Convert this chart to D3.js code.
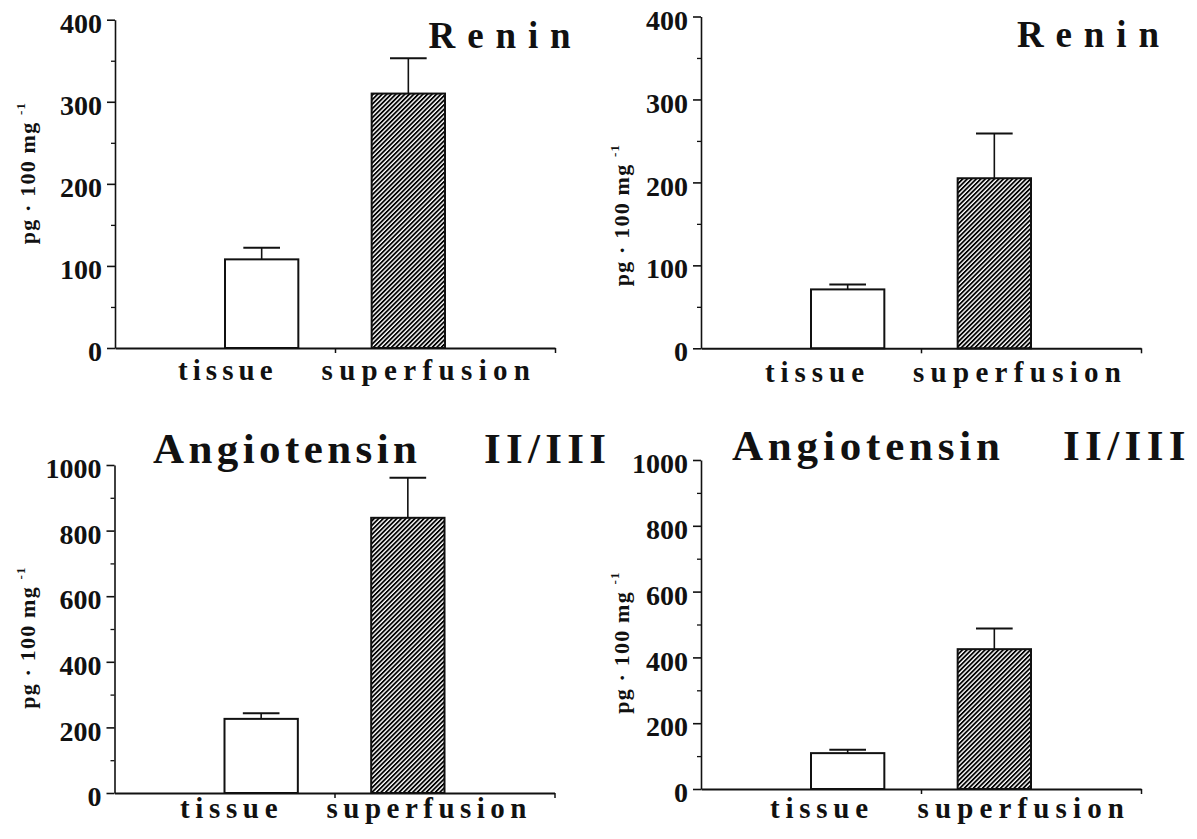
<!DOCTYPE html>
<html>
<head>
<meta charset="utf-8">
<script src="https://cdn.jsdelivr.net/npm/d3@7"></script>
<style>
  body { margin: 0; background: #fff; }
  svg { display: block; }
</style>
</head>
<body>
<svg id="fig" width="1197" height="839"></svg>
<script>
// Groups shown on every panel
const groups = ["tissue", "superfusion"];

// Renin content (pg · 100 mg⁻¹), mean and SEM
const reninMeansA = [108, 310];
const reninSemA   = [14, 43];
const reninMeansB = [71, 205];
const reninSemB   = [6, 54];

// Angiotensin II/III content (pg · 100 mg⁻¹), mean and SEM
const angioMeansA = [226, 839];
const angioSemA   = [17, 122];
const angioMeansB = [109, 425];
const angioSemB   = [10, 63];

// Axis tick labels
const reninTicks = [0, 100, 200, 300, 400];
const angioTicks = [0, 200, 400, 600, 800, 1000];

const FONT = "'Liberation Serif', 'Times New Roman', Times, serif";
const svg = d3.select("#fig");

// Diagonal hatching for the superfusion bars
const defs = svg.append("defs");
const hatch = defs.append("pattern")
  .attr("id", "hatch")
  .attr("patternUnits", "userSpaceOnUse")
  .attr("width", 3.2).attr("height", 3.2)
  .attr("patternTransform", "rotate(45)");
hatch.append("rect").attr("width", 3.2).attr("height", 3.2).attr("fill", "#fff");
hatch.append("rect").attr("width", 1.8).attr("height", 3.2).attr("fill", "#000");

// Panel layout
const panels = [
  { means: reninMeansA, sem: reninSemA, ticks: reninTicks, minorStep: 50, yMax: 400,
    left: 115, bottom: 348, top: 19.7,
    titles: [{ text: "Renin", x: 428.6, y: 48.3, size: 37, len: 142 }],
    yLabel: { x: 35, y: 173 },
    xLabels: [{ x: 178, len: 94.5 }, { x: 321.5, len: 208.5 }], xLabelY: 380 },
  { means: reninMeansB, sem: reninSemB, ticks: reninTicks, minorStep: 50, yMax: 400,
    left: 701, bottom: 348.3, top: 16.5,
    titles: [{ text: "Renin", x: 1017, y: 46.7, size: 37, len: 142 }],
    yLabel: { x: 629, y: 215 },
    xLabels: [{ x: 765, len: 99 }, { x: 913, len: 208 }], xLabelY: 381.7 },
  { means: angioMeansA, sem: angioSemA, ticks: angioTicks, minorStep: 100, yMax: 1000,
    left: 114.5, bottom: 793, top: 465,
    titles: [{ text: "Angiotensin", x: 153, y: 462.7, size: 43, len: 264 },
             { text: "II/III", x: 484, y: 462.7, size: 43, len: 122 }],
    yLabel: { x: 35, y: 637.5 },
    xLabels: [{ x: 180, len: 97.5 }, { x: 326.5, len: 200 }], xLabelY: 818 },
  { means: angioMeansB, sem: angioSemB, ticks: angioTicks, minorStep: 100, yMax: 1000,
    left: 701, bottom: 789, top: 460,
    titles: [{ text: "Angiotensin", x: 732, y: 460, size: 43, len: 268 },
             { text: "II/III", x: 1063, y: 460, size: 43, len: 122.5 }],
    yLabel: { x: 629, y: 642.5 },
    xLabels: [{ x: 770, len: 98 }, { x: 917.6, len: 206.4 }], xLabelY: 818 }
];

panels.forEach(p => {
  const g = svg.append("g");
  const x = d3.scaleLinear().domain([0, 3]).range([p.left, p.left + 440]);
  const y = d3.scaleLinear().domain([0, p.yMax]).range([p.bottom, p.top]);
  const barW = x(0.5) - x(0);
  const capW = x(0.25) - x(0);

  // Bars
  g.selectAll("rect.bar")
    .data(groups)
    .join("rect")
    .attr("class", "bar")
    .attr("x", (d, i) => x(i + 1) - barW / 2)
    .attr("y", (d, i) => y(p.means[i]))
    .attr("width", barW)
    .attr("height", (d, i) => y(0) - y(p.means[i]))
    .attr("fill", (d, i) => i === 0 ? "#fff" : "url(#hatch)")
    .attr("stroke", "#111")
    .attr("stroke-width", 2);

  // Error bars (upper half only)
  g.selectAll("line.err")
    .data(groups)
    .join("line")
    .attr("class", "err")
    .attr("x1", (d, i) => x(i + 1)).attr("x2", (d, i) => x(i + 1))
    .attr("y1", (d, i) => y(p.means[i]))
    .attr("y2", (d, i) => y(p.means[i] + p.sem[i]))
    .attr("stroke", "#111").attr("stroke-width", 1.6);
  g.selectAll("line.cap")
    .data(groups)
    .join("line")
    .attr("class", "cap")
    .attr("x1", (d, i) => x(i + 1) - capW / 2)
    .attr("x2", (d, i) => x(i + 1) + capW / 2)
    .attr("y1", (d, i) => y(p.means[i] + p.sem[i]))
    .attr("y2", (d, i) => y(p.means[i] + p.sem[i]))
    .attr("stroke", "#111").attr("stroke-width", 2);

  // Minor y ticks
  const minorVals = d3.range(0, p.yMax + 1, p.minorStep).filter(v => !p.ticks.includes(v));
  g.append("g")
    .attr("transform", `translate(${p.left},0)`)
    .call(d3.axisLeft(y).tickValues(minorVals).tickSize(4).tickFormat(""))
    .call(s => s.select(".domain").remove())
    .call(s => s.selectAll("line").attr("stroke", "#111").attr("stroke-width", 1.3));

  // Major y axis
  g.append("g")
    .attr("transform", `translate(${p.left},0)`)
    .call(d3.axisLeft(y).tickValues(p.ticks).tickFormat(d3.format("d"))
      .tickSize(8).tickSizeOuter(0).tickPadding(5))
    .call(s => s.select(".domain").attr("stroke", "#111").attr("stroke-width", 1.6))
    .call(s => s.selectAll("line").attr("stroke", "#111").attr("stroke-width", 1.6))
    .call(s => s.selectAll("text")
      .attr("dy", "0.45em")
      .attr("fill", "#111")
      .style("font-family", FONT)
      .style("font-size", "28px")
      .style("font-weight", "bold"));

  // X axis with small downward ticks
  g.append("g")
    .attr("transform", `translate(0,${y(0)})`)
    .call(d3.axisBottom(x).tickValues([1.5, 3]).tickSize(5).tickSizeOuter(0).tickFormat(""))
    .call(s => s.select(".domain").attr("stroke", "#111").attr("stroke-width", 2))
    .call(s => s.selectAll("line").attr("stroke", "#111").attr("stroke-width", 1.5));

  // Category labels
  g.selectAll("text.xlab")
    .data(groups)
    .join("text")
    .attr("class", "xlab")
    .attr("x", (d, i) => p.xLabels[i].x)
    .attr("y", p.xLabelY)
    .attr("textLength", (d, i) => p.xLabels[i].len)
    .attr("lengthAdjust", "spacing")
    .attr("fill", "#111")
    .style("font-family", FONT)
    .style("font-size", "29px")
    .style("font-weight", "bold")
    .text(d => d);

  // Panel titles
  p.titles.forEach(t => {
    g.append("text")
      .attr("x", t.x).attr("y", t.y)
      .attr("textLength", t.len)
      .attr("lengthAdjust", "spacing")
      .attr("fill", "#111")
      .style("font-family", FONT)
      .style("font-size", t.size + "px")
      .style("font-weight", "bold")
      .text(t.text);
  });

  // Y axis unit label
  const yl = g.append("text")
    .attr("transform", `translate(${p.yLabel.x},${p.yLabel.y}) rotate(-90)`)
    .attr("text-anchor", "middle")
    .attr("fill", "#111")
    .style("font-family", FONT)
    .style("font-size", "22px")
    .style("font-weight", "bold")
    .style("letter-spacing", "1.2px");
  yl.append("tspan").text("pg · 100 mg ");
  yl.append("tspan").attr("dy", -10).style("font-size", "13px").text("-1");
});
</script>
</body>
</html>
